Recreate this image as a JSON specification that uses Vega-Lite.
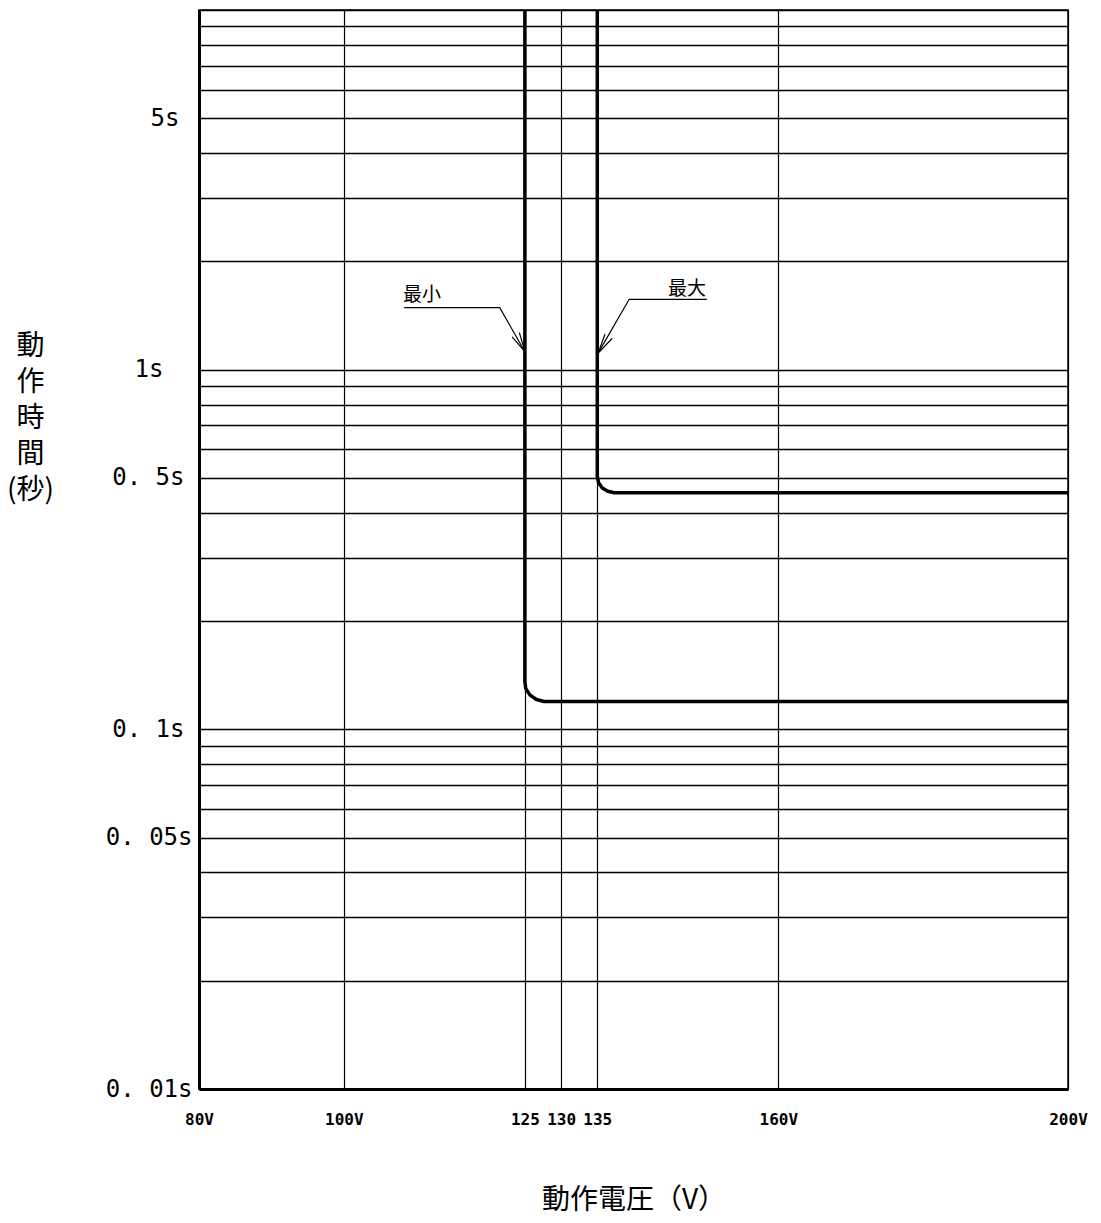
{
  "$schema": "https://vega.github.io/schema/vega-lite/v6.json",
  "autosize": {"type": "none"},
  "padding": {"left": 199, "top": 10, "right": 33, "bottom": 134},
  "width": 869,
  "height": 1079,
  "background": "white",
  "config": {
    "view": {"stroke": "black", "strokeWidth": 1.5},
    "axis": {"labelOverlap": false, "labelFlush": false}
  },
  "layer": [
    {
      "data": {"values": [
        {"series": "最小", "i": 1, "V": 125, "t": 10},
        {"series": "最小", "i": 2, "V": 125, "t": 0.136},
        {"series": "最小", "i": 3, "V": 125.11, "t": 0.13},
        {"series": "最小", "i": 4, "V": 125.72, "t": 0.1245},
        {"series": "最小", "i": 5, "V": 126.6, "t": 0.121},
        {"series": "最小", "i": 6, "V": 127.66, "t": 0.1195},
        {"series": "最小", "i": 7, "V": 200, "t": 0.1195},
        {"series": "最大", "i": 1, "V": 135, "t": 10},
        {"series": "最大", "i": 2, "V": 135, "t": 0.505},
        {"series": "最大", "i": 3, "V": 135.18, "t": 0.485},
        {"series": "最大", "i": 4, "V": 135.69, "t": 0.469},
        {"series": "最大", "i": 5, "V": 136.45, "t": 0.459},
        {"series": "最大", "i": 6, "V": 137.34, "t": 0.455},
        {"series": "最大", "i": 7, "V": 200, "t": 0.455}
      ]},
      "mark": {"type": "line", "color": "black", "strokeWidth": 3.5, "clip": true, "strokeJoin": "round"},
      "encoding": {
        "x": {
          "field": "V", "type": "quantitative",
          "scale": {"domain": [80, 200], "nice": false, "zero": false},
          "axis": {
            "values": [80, 100, 125, 130, 135, 160, 200],
            "labelExpr": "(datum.value == 125 || datum.value == 130 || datum.value == 135) ? datum.value + '' : datum.value + 'V'",
            "ticks": false,
            "grid": true, "gridColor": "black", "gridWidth": 1.2, "gridOpacity": 1,
            "domain": true, "domainColor": "black", "domainWidth": 3,
            "labelFont": "DejaVu Sans Mono", "labelFontSize": 16, "labelFontWeight": "bold",
            "labelColor": "black", "labelPadding": 22,
            "title": "動作電圧（V）",
            "titleFont": "Noto Sans CJK JP", "titleFontSize": 28, "titleFontWeight": "normal",
            "titleColor": "black", "titleY": 111, "titleBaseline": "middle"
          }
        },
        "y": {
          "field": "t", "type": "quantitative",
          "scale": {"type": "log", "domain": [0.01, 10], "nice": false},
          "axis": {
            "values": [0.01, 0.02, 0.03, 0.04, 0.05, 0.06, 0.07, 0.08, 0.09, 0.1, 0.2, 0.3, 0.4, 0.5, 0.6, 0.7, 0.8, 0.9, 1, 2, 3, 4, 5, 6, 7, 8, 9, 10],
            "labelExpr": "datum.value == 5 ? '5s' : datum.value == 1 ? '1s' : datum.value == 0.5 ? '0. 5s' : datum.value == 0.1 ? '0. 1s' : datum.value == 0.05 ? '0. 05s' : datum.value == 0.01 ? '0. 01s' : ''",
            "ticks": false,
            "grid": true, "gridColor": "black", "gridWidth": 1.5, "gridOpacity": 1,
            "domain": true, "domainColor": "black", "domainWidth": 3,
            "labelFont": "DejaVu Sans Mono", "labelFontSize": 24, "labelColor": "black",
            "labelPadding": {"condition": [{"test": "datum.value == 1", "value": 36}, {"test": "datum.value == 5", "value": 20}, {"test": "datum.value == 0.5 || datum.value == 0.1", "value": 15}], "value": 7},
            "title": ["動", "作", "時", "間", "(秒)"],
            "titleFont": "Noto Sans CJK JP", "titleFontSize": 28, "titleFontWeight": "normal",
            "titleColor": "black", "titleAngle": 0, "titleAlign": "center", "titleBaseline": "top",
            "titleLineHeight": 36, "titleX": -169, "titleY": 322
          }
        },
        "detail": {"field": "series"},
        "order": {"field": "i"}
      }
    },
    {
      "data": {"values": [
        {"id": "min_lead", "i": 1, "V": 108.33, "t": 1.487},
        {"id": "min_lead", "i": 2, "V": 121.53, "t": 1.487},
        {"id": "min_lead", "i": 3, "V": 125.0, "t": 1.122},
        {"id": "min_head", "i": 1, "V": 124.24, "t": 1.267},
        {"id": "min_head", "i": 2, "V": 125.0, "t": 1.122},
        {"id": "min_head", "i": 3, "V": 123.24, "t": 1.234},
        {"id": "max_lead", "i": 1, "V": 150.14, "t": 1.569},
        {"id": "max_lead", "i": 2, "V": 139.4, "t": 1.569},
        {"id": "max_lead", "i": 3, "V": 135.1, "t": 1.11},
        {"id": "max_head", "i": 1, "V": 137.06, "t": 1.223},
        {"id": "max_head", "i": 2, "V": 135.1, "t": 1.11},
        {"id": "max_head", "i": 3, "V": 136.06, "t": 1.255}
      ]},
      "mark": {"type": "line", "color": "black", "strokeWidth": 1.2},
      "encoding": {
        "x": {"field": "V", "type": "quantitative"},
        "y": {"field": "t", "type": "quantitative"},
        "detail": {"field": "id"},
        "order": {"field": "i"}
      }
    },
    {
      "data": {"values": [
        {"label": "最小", "V": 110.8, "t": 1.613},
        {"label": "最大", "V": 147.4, "t": 1.681}
      ]},
      "mark": {"type": "text", "font": "Noto Sans CJK JP", "fontSize": 19, "color": "black", "align": "center", "baseline": "middle"},
      "encoding": {
        "x": {"field": "V", "type": "quantitative"},
        "y": {"field": "t", "type": "quantitative"},
        "text": {"field": "label"}
      }
    }
  ]
}
